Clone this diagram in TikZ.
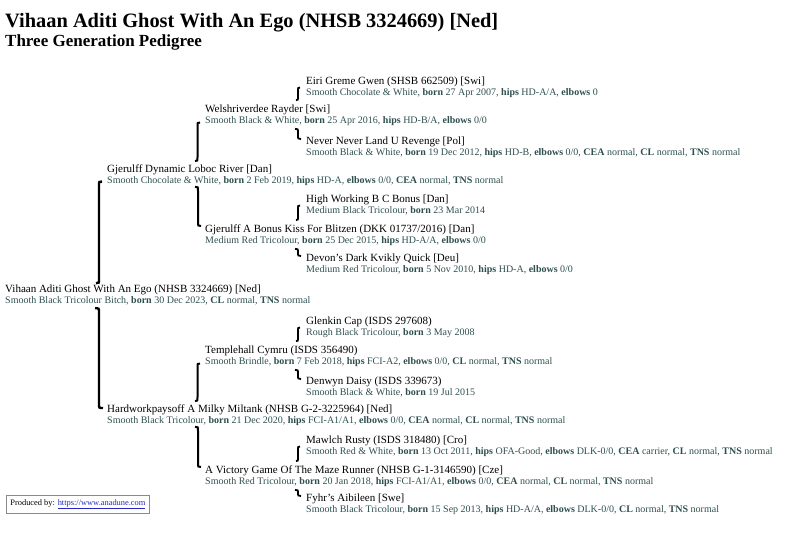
\documentclass[tikz,border=0pt]{standalone}
\usepackage{fontspec}
\setmainfont{Liberation Serif}
\usetikzlibrary{positioning, calc}
\definecolor{cdet}{HTML}{2F4F4F}
\definecolor{clink}{HTML}{2828C0}
\definecolor{cframe}{HTML}{8A8A8A}
\newcommand{\kw}[1]{\textbf{#1}}
\tikzset{
  every picture/.style={x=1pt, y=-1pt},
  hd/.style={anchor=base west, inner sep=0pt, font=\bfseries\fontsize{20.4}{24}\selectfont},
  sub/.style={anchor=base west, inner sep=0pt, font=\bfseries\fontsize{17}{20}\selectfont},
  nm/.style={anchor=base west, inner sep=0pt, font=\fontsize{11}{13}\selectfont},
  dt/.style={anchor=base west, inner sep=0pt, text=cdet, font=\fontsize{10}{12}\selectfont},
  brk/.style={line width=2pt, to path={let \p1=(\tikztostart), \p2=(\tikztotarget),
      \p3=($(\p1)!0.5!(\p2)$) in (\p1) .. controls (\x3,\y1) .. (\x3,\y1-4pt)
      -- (\x3,\y2+4pt) .. controls (\x3,\y2) .. (\p2)}},
}

\begin{document}
\begin{tikzpicture}
  \useasboundingbox (0,0) rectangle (799,535);

  \node[hd] (title) at (5,28) {Vihaan Aditi Ghost With An Ego (NHSB 3324669) [Ned]};
  \node[sub] (subtitle) at (5,47) {Three Generation Pedigree};

  % the dog herself
  \node[nm] (dog) at (5,292) {Vihaan Aditi Ghost With An Ego (NHSB 3324669) [Ned]};
  \node[below=11.5pt of dog.base west, dt] (dogD) {Smooth Black Tricolour Bitch, \kw{born} 30 Dec 2023, \kw{CL} normal, \kw{TNS} normal};

  % parents
  \node[nm] (sire) at (107,172) {Gjerulff Dynamic Loboc River [Dan]};
  \node[below=11.5pt of sire.base west, dt] (sireD) {Smooth Chocolate \& White, \kw{born} 2 Feb 2019, \kw{hips} HD-A, \kw{elbows} 0/0, \kw{CEA} normal, \kw{TNS} normal};
  \node[nm] (dam) at (107,412) {Hardworkpaysoff A Milky Miltank (NHSB G-2-3225964) [Ned]};
  \node[below=11.5pt of dam.base west, dt] (damD) {Smooth Black Tricolour, \kw{born} 21 Dec 2020, \kw{hips} FCI-A1/A1, \kw{elbows} 0/0, \kw{CEA} normal, \kw{CL} normal, \kw{TNS} normal};

  % grandparents
  \node[nm] (ss) at (205,112) {Welshriverdee Rayder [Swi]};
  \node[below=11.5pt of ss.base west, dt] (ssD) {Smooth Black \& White, \kw{born} 25 Apr 2016, \kw{hips} HD-B/A, \kw{elbows} 0/0};
  \node[nm] (sd) at (205,232) {Gjerulff A Bonus Kiss For Blitzen (DKK 01737/2016) [Dan]};
  \node[below=11.5pt of sd.base west, dt] (sdD) {Medium Red Tricolour, \kw{born} 25 Dec 2015, \kw{hips} HD-A/A, \kw{elbows} 0/0};
  \node[nm] (ds) at (205,353) {Templehall Cymru (ISDS 356490)};
  \node[below=11.5pt of ds.base west, dt] (dsD) {Smooth Brindle, \kw{born} 7 Feb 2018, \kw{hips} FCI-A2, \kw{elbows} 0/0, \kw{CL} normal, \kw{TNS} normal};
  \node[nm] (dd) at (205,473) {A Victory Game Of The Maze Runner (NHSB G-1-3146590) [Cze]};
  \node[below=11.5pt of dd.base west, dt] (ddD) {Smooth Red Tricolour, \kw{born} 20 Jan 2018, \kw{hips} FCI-A1/A1, \kw{elbows} 0/0, \kw{CEA} normal, \kw{CL} normal, \kw{TNS} normal};

  % great-grandparents
  \node[nm] (sss) at (306,84) {Eiri Greme Gwen (SHSB 662509) [Swi]};
  \node[below=11.5pt of sss.base west, dt] (sssD) {Smooth Chocolate \& White, \kw{born} 27 Apr 2007, \kw{hips} HD-A/A, \kw{elbows} 0};
  \node[nm] (ssd) at (306,144) {Never Never Land U Revenge [Pol]};
  \node[below=11.5pt of ssd.base west, dt] (ssdD) {Smooth Black \& White, \kw{born} 19 Dec 2012, \kw{hips} HD-B, \kw{elbows} 0/0, \kw{CEA} normal, \kw{CL} normal, \kw{TNS} normal};
  \node[nm] (sds) at (306,202) {High Working B C Bonus [Dan]};
  \node[below=11.5pt of sds.base west, dt] (sdsD) {Medium Black Tricolour, \kw{born} 23 Mar 2014};
  \node[nm] (sdd) at (306,261) {Devon's Dark Kvikly Quick [Deu]};
  \node[below=11.5pt of sdd.base west, dt] (sddD) {Medium Red Tricolour, \kw{born} 5 Nov 2010, \kw{hips} HD-A, \kw{elbows} 0/0};
  \node[nm] (dss) at (306,324) {Glenkin Cap (ISDS 297608)};
  \node[below=11.5pt of dss.base west, dt] (dssD) {Rough Black Tricolour, \kw{born} 3 May 2008};
  \node[nm] (dsd) at (306,384) {Denwyn Daisy (ISDS 339673)};
  \node[below=11.5pt of dsd.base west, dt] (dsdD) {Smooth Black \& White, \kw{born} 19 Jul 2015};
  \node[nm] (dds) at (306,443) {Mawlch Rusty (ISDS 318480) [Cro]};
  \node[below=11.5pt of dds.base west, dt] (ddsD) {Smooth Red \& White, \kw{born} 13 Oct 2011, \kw{hips} OFA-Good, \kw{elbows} DLK-0/0, \kw{CEA} carrier, \kw{CL} normal, \kw{TNS} normal};
  \node[nm] (ddd) at (306,501) {Fyhr's Aibileen [Swe]};
  \node[below=11.5pt of ddd.base west, dt] (dddD) {Smooth Black Tricolour, \kw{born} 15 Sep 2013, \kw{hips} HD-A/A, \kw{elbows} DLK-0/0, \kw{CL} normal, \kw{TNS} normal};

  % brackets
  \draw[brk, line width=2.4pt] ($(sireD.base west)+(-5,-2)$) to ($(sire.west |- dog.north)+(-11,-1)$);
  \draw[brk, line width=2.4pt] ($(dam.west |- dogD.south)+(-12,3)$) to ($(dam.base west)+(-4,-4)$);
  \draw[brk] ($(ssD.base west)+(-5,-1)$) to ($(ss.west |- sire.north)+(-10,-3)$);
  \draw[brk] ($(sd.west |- sireD.south)+(-10,1)$) to ($(sd.base west)+(-4,-6)$);
  \draw[brk] ($(dsD.base west)+(-5,-1)$) to ($(ds.west |- dam.north)+(-10,-3)$);
  \draw[brk] ($(dd.west |- damD.south)+(-10,1)$) to ($(dd.base west)+(-4,-6)$);
  \draw[brk, line width=1.8pt] ($(sssD.base west)+(-6,-8)$) to ($(sss.west |- ss.north)+(-10,-4)$);
  \draw[brk, line width=1.8pt] ($(ssd.west |- ssD.south)+(-11,3)$) to ($(ssd.base west)+(-5,-5)$);
  \draw[brk, line width=1.8pt] ($(sdsD.base west)+(-6,-8)$) to ($(sds.west |- sd.north)+(-10,-4)$);
  \draw[brk, line width=1.8pt] ($(sdd.west |- sdD.south)+(-11,3)$) to ($(sdd.base west)+(-5,-5)$);
  \draw[brk, line width=1.8pt] ($(dssD.base west)+(-6,-8)$) to ($(dss.west |- ds.north)+(-10,-4)$);
  \draw[brk, line width=1.8pt] ($(dsd.west |- dsD.south)+(-11,3)$) to ($(dsd.base west)+(-5,-5)$);
  \draw[brk, line width=1.8pt] ($(ddsD.base west)+(-6,-8)$) to ($(dds.west |- dd.north)+(-10,-4)$);
  \draw[brk, line width=1.8pt] ($(ddd.west |- ddD.south)+(-11,3)$) to ($(ddd.base west)+(-5,-5)$);

  \node[draw=cframe, line width=0.8pt, anchor=north west, inner xsep=4pt, inner ysep=4pt,
        font=\fontsize{8.4}{10}\selectfont] (prod) at (6,495)
    {Produced by: \textcolor{clink}{\underline{https://www.anadune.com}}};
\end{tikzpicture}
\end{document}
